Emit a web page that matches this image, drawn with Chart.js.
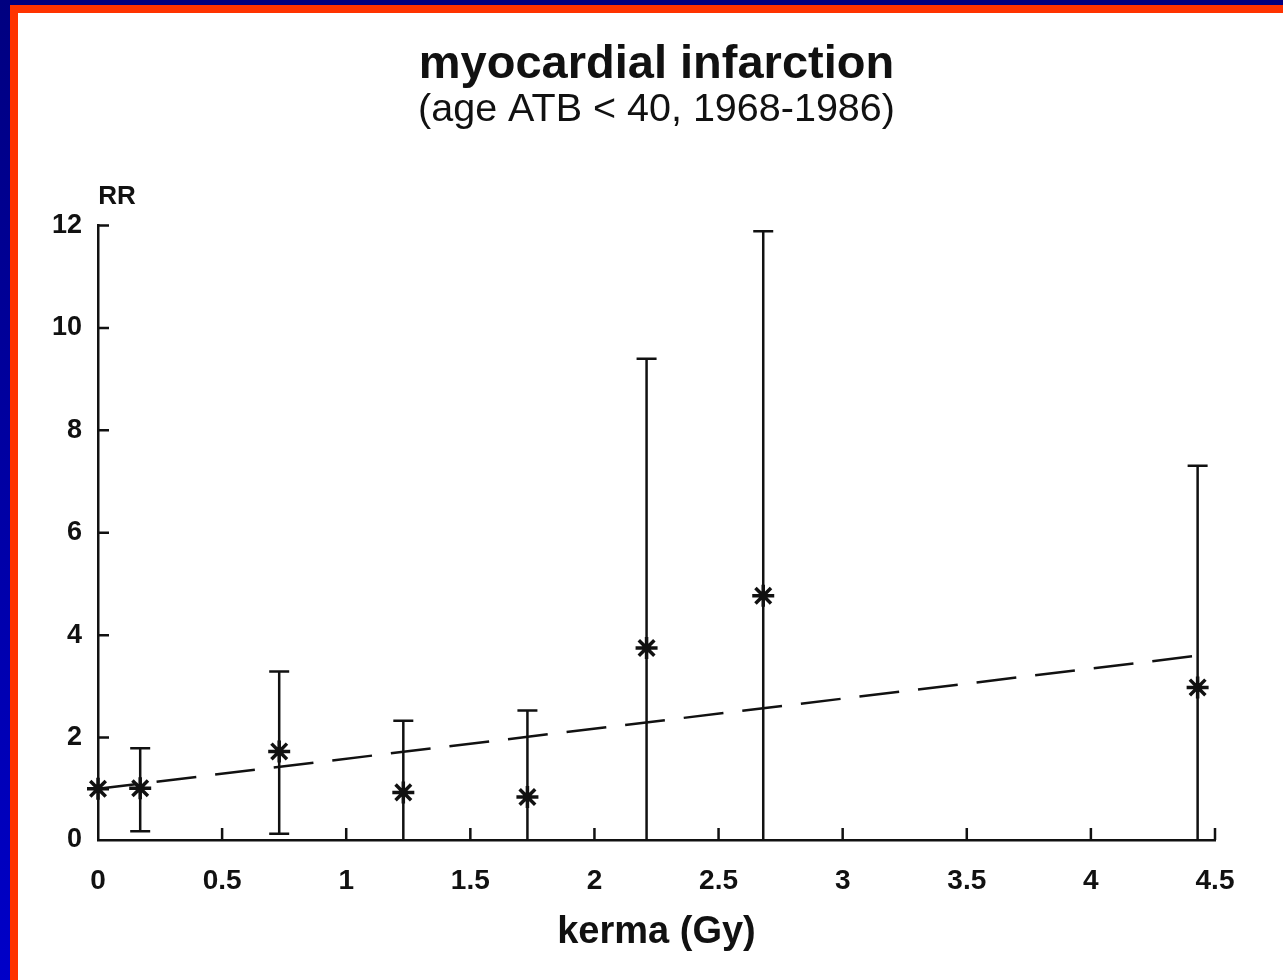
<!DOCTYPE html>
<html>
<head>
<meta charset="utf-8">
<script src="https://cdn.jsdelivr.net/npm/chart.js@4"></script>
<style>
  html, body { margin: 0; padding: 0; width: 1283px; height: 980px; overflow: hidden; }
  body { background: linear-gradient(to bottom, #000080 0%, #0000c8 100%); }
  #frame {
    position: absolute; left: 10px; top: 5px; right: 0; bottom: 0;
    border-left: 8px solid #ff3300; border-top: 8px solid #ff3300;
    background: #fff; overflow: hidden;
  }
  canvas { display: block; }
</style>
</head>
<body>
<div id="frame"><canvas id="chart" width="1277" height="967" style="width:1277px;height:967px"></canvas></div>
<script>
document.addEventListener('DOMContentLoaded', function() {
    // values
    const kerma = [0, 0.17, 0.73, 1.23, 1.73, 2.21, 2.68, 4.43];
    const rr = [1.0, 1.01, 1.73, 0.93, 0.84, 3.75, 4.77, 2.98];
    const rrLower = [null, 0.17, 0.12, 0, 0, 0, 0, 0];
    const rrUpper = [null, 1.79, 3.29, 2.33, 2.53, 9.4, 11.89, 7.31];
    const fitX = [0, 4.43];
    const fitY = [1.0, 3.6];
    const xTicks = [0, 0.5, 1, 1.5, 2, 2.5, 3, 3.5, 4, 4.5];
    const yTicks = [0, 2, 4, 6, 8, 10, 12];

    const ink = '#111';
    const fontFamily = '"Liberation Sans", Arial, Helvetica, sans-serif';

    // error bars, inward tick marks and the "RR" label
    const extras = {
        id: 'extras',
        beforeDatasetsDraw(chart) {
            const { ctx, scales: { x, y } } = chart;
            ctx.save();
            ctx.strokeStyle = ink;
            ctx.lineWidth = 2.5;
            kerma.forEach((k, i) => {
                if (rrUpper[i] === null) return;
                const px = x.getPixelForValue(k);
                const top = y.getPixelForValue(rrUpper[i]);
                const bot = y.getPixelForValue(rrLower[i]);
                ctx.beginPath();
                ctx.moveTo(px, bot);
                ctx.lineTo(px, top);
                ctx.moveTo(px - 10, top);
                ctx.lineTo(px + 10, top);
                if (rrLower[i] > 0) {
                    ctx.moveTo(px - 10, bot);
                    ctx.lineTo(px + 10, bot);
                }
                ctx.stroke();
            });
            ctx.restore();
        },
        afterDraw(chart) {
            const { ctx, chartArea, scales: { x, y } } = chart;
            ctx.save();
            ctx.strokeStyle = ink;
            ctx.lineWidth = 2.5;
            ctx.beginPath();
            yTicks.forEach(v => {
                if (v === 0) return;
                const py = y.getPixelForValue(v);
                ctx.moveTo(chartArea.left, py);
                ctx.lineTo(chartArea.left + 11, py);
            });
            xTicks.forEach(v => {
                if (v === 0) return;
                const px = x.getPixelForValue(v);
                ctx.moveTo(px, chartArea.bottom);
                ctx.lineTo(px, chartArea.bottom - 12);
            });
            ctx.stroke();
            ctx.fillStyle = ink;
            ctx.font = 'bold 26px ' + fontFamily;
            ctx.textAlign = 'center';
            ctx.textBaseline = 'middle';
            ctx.fillText('RR', chartArea.left + 19, chartArea.top - 29);
            ctx.restore();
        }
    };

    new Chart(document.getElementById('chart'), {
        type: 'scatter',
        data: {
            datasets: [{
                label: 'RR',
                data: kerma.map((k, i) => ({ x: k, y: rr[i] })),
                pointStyle: 'star',
                pointRadius: 11,
                pointBorderWidth: 3.5,
                borderColor: ink,
                backgroundColor: ink,
                showLine: false,
                clip: false
            }, {
                label: 'fit',
                data: fitX.map((k, i) => ({ x: k, y: fitY[i] })),
                showLine: true,
                borderColor: ink,
                borderWidth: 2.5,
                borderDash: [40, 19],
                pointRadius: 0,
                clip: false
            }]
        },
        options: {
            responsive: false,
            animation: false,
            devicePixelRatio: 1,
            layout: { padding: 0 },
            plugins: {
                legend: { display: false },
                tooltip: { enabled: false },
                title: {
                    display: true,
                    text: 'myocardial infarction',
                    color: ink,
                    font: { family: fontFamily, size: 47, weight: 'bold', lineHeight: 1.0 },
                    padding: { top: 29, bottom: 0 }
                },
                subtitle: {
                    display: true,
                    text: '(age ATB < 40, 1968-1986)',
                    color: ink,
                    font: { family: fontFamily, size: 39.5, weight: 'normal', lineHeight: 1.0 },
                    padding: { top: 1, bottom: 96 }
                }
            },
            scales: {
                x: {
                    type: 'linear',
                    min: 0,
                    max: 4.5,
                    afterFit(scale) { scale.height = 140; },
                    afterBuildTicks(scale) { scale.ticks = xTicks.map(v => ({ value: v })); },
                    grid: { display: true, drawOnChartArea: false, drawTicks: false },
                    border: { display: true, color: ink, width: 2.5 },
                    ticks: {
                        color: ink,
                        padding: 24,
                        maxRotation: 0,
                        autoSkip: false,
                        callback: v => String(v),
                        font: { family: fontFamily, size: 28, weight: 'bold', lineHeight: 1.2 }
                    },
                    title: {
                        display: true,
                        text: 'kerma (Gy)',
                        color: ink,
                        font: { family: fontFamily, size: 38, weight: 'bold', lineHeight: 1.2 },
                        padding: { top: 0, bottom: 25 }
                    }
                },
                y: {
                    type: 'linear',
                    min: 0,
                    max: 12,
                    afterFit(scale) { scale.width = 80; },
                    afterBuildTicks(scale) { scale.ticks = yTicks.map(v => ({ value: v })); },
                    grid: { display: true, drawOnChartArea: false, drawTicks: false },
                    border: { display: true, color: ink, width: 2.5 },
                    ticks: {
                        color: ink,
                        padding: 16,
                        callback: v => String(v),
                        font: { family: fontFamily, size: 27, weight: 'bold', lineHeight: 1.2 }
                    }
                },
                // empty right-hand box so the titles centre over the plot area
                yRight: {
                    type: 'linear',
                    position: 'right',
                    min: 0,
                    max: 12,
                    afterFit(scale) { scale.width = 80; },
                    grid: { display: false },
                    border: { display: false },
                    ticks: { display: false }
                }
            }
        },
        plugins: [extras]
    });
});
</script>
</body>
</html>
